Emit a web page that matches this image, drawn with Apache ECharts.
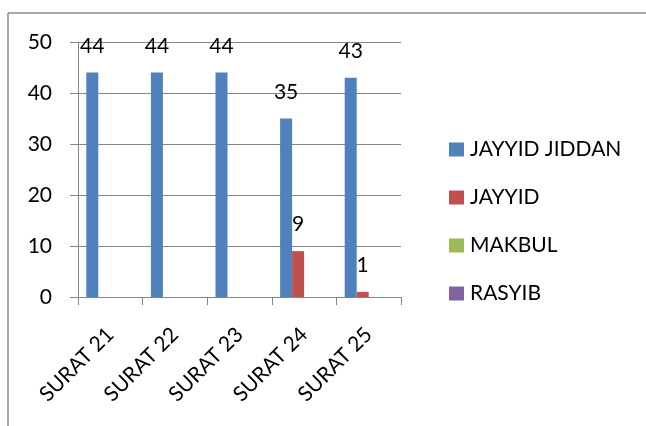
<!DOCTYPE html>
<html>
<head>
<meta charset="utf-8">
<script src="https://cdn.jsdelivr.net/npm/echarts@6/dist/echarts.min.js"></script>
<style>
html,body{margin:0;padding:0;background:#fff;}
#chart{width:646px;height:426px;}
</style>
</head>
<body>
<div id="chart"></div>
<script>
var categories = ['SURAT 21', 'SURAT 22', 'SURAT 23', 'SURAT 24', 'SURAT 25'];
var seriesNames = ['JAYYID JIDDAN', 'JAYYID', 'MAKBUL', 'RASYIB'];
var jayyidJiddan = [44, 44, 44, 35, 43];
var jayyid = [0, 0, 0, 9, 1];
var makbul = [0, 0, 0, 0, 0];
var rasyib = [0, 0, 0, 0, 0];
var yTicks = [0, 10, 20, 30, 40, 50];

var colors = ['#4f81bd', '#c0504d', '#9bbb59', '#8064a2'];
var font = 'Lato, "Open Sans", sans-serif';

var chart = echarts.init(document.getElementById('chart'));

function makeSeries(name, data, color) {
    return {
        name: name,
        type: 'bar',
        data: data,
        barWidth: 12,
        barGap: '0%',
        itemStyle: { color: color },
        label: {
            show: true,
            position: 'top',
            distance: 16,
            fontFamily: font,
            fontSize: 21,
            color: '#000',
            formatter: function (p) { return p.value ? p.value : ''; }
        }
    };
}

var option = {
    animation: false,
    textStyle: { fontFamily: font },
    //图例
    legend: {
        orient: 'vertical',
        left: 444,
        top: 134,
        itemWidth: 15,
        itemHeight: 14,
        itemGap: 27,
        icon: 'rect',
        textStyle: { fontFamily: font, fontSize: 21, color: '#000', padding: [0, 0, 0, 1] },
        data: seriesNames
    },
    grid: { left: 78, right: 245, top: 42, bottom: 129 },
    //横坐标
    xAxis: {
        type: 'category',
        data: categories,
        axisLine: { lineStyle: { color: '#868686', width: 1 } },
        axisTick: { show: true, length: 8, lineStyle: { color: '#868686' } },
        axisLabel: {
            rotate: 45,
            margin: 34,
            fontFamily: font,
            fontSize: 21,
            color: '#000'
        }
    },
    //纵坐标
    yAxis: {
        type: 'value',
        min: yTicks[0],
        max: yTicks[yTicks.length - 1],
        interval: 10,
        axisLine: { show: true, lineStyle: { color: '#868686', width: 1 } },
        axisTick: { show: true, inside: false, length: 8, lineStyle: { color: '#868686' } },
        axisLabel: { margin: 26, fontFamily: font, fontSize: 21, color: '#000' },
        splitLine: { lineStyle: { color: '#868686', width: 1 } }
    },
    graphic: [
        { type: 'line', shape: { x1: 8, y1: 13, x2: 646, y2: 13 }, style: { stroke: '#8c8c8c', lineWidth: 1.5 } },
        { type: 'line', shape: { x1: 8, y1: 13, x2: 8, y2: 426 }, style: { stroke: '#8c8c8c', lineWidth: 1.5 } }
    ],
    series: [
        makeSeries(seriesNames[0], jayyidJiddan, colors[0]),
        makeSeries(seriesNames[1], jayyid, colors[1]),
        makeSeries(seriesNames[2], makbul, colors[2]),
        makeSeries(seriesNames[3], rasyib, colors[3])
    ]
};
chart.setOption(option);
</script>
</body>
</html>
